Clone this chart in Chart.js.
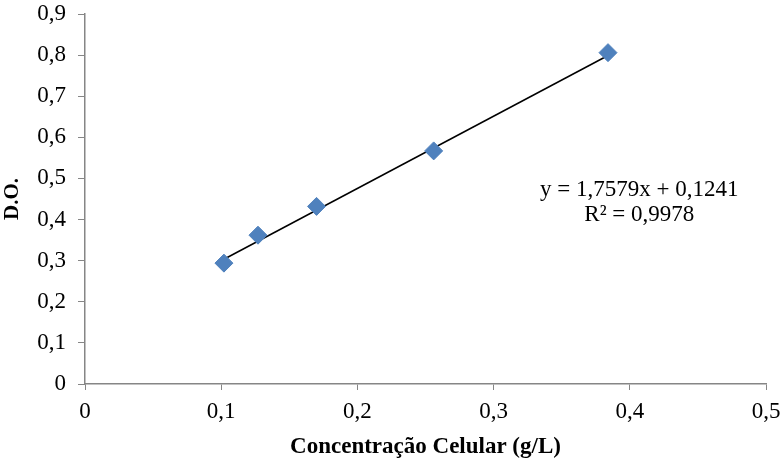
<!DOCTYPE html>
<html>
<head>
<meta charset="utf-8">
<script src="https://cdn.jsdelivr.net/npm/chart.js@4"></script>
<style>
  html, body { margin: 0; padding: 0; background: #fff; }
  #wrap { width: 784px; height: 461px; }
</style>
</head>
<body>
<div id="wrap"><canvas id="calib"></canvas></div>
<script>
// Calibration curve data
const concentracao = [0.102, 0.127, 0.170, 0.256, 0.384];
const densidade = [0.294, 0.362, 0.432, 0.567, 0.806];
const slope = 1.7579;
const intercept = 0.1241;
const equationLines = ['y = 1,7579x + 0,1241', 'R² = 0,9978'];

const fmt = v => String(Math.round(v * 10) / 10).replace('.', ',');

// trendline over the data range, from the fitted equation
const xMin = Math.min(...concentracao);
const xMax = Math.max(...concentracao);
const trend = [xMin, xMax].map(x => ({ x: x, y: slope * x + intercept }));

const points = concentracao.map((x, i) => ({ x: x, y: densidade[i] }));

const equationLabel = {
    id: 'equationLabel',
    afterDatasetsDraw(chart) {
        const { ctx, scales } = chart;
        ctx.save();
        ctx.font = '23px "Liberation Serif"';
        ctx.fillStyle = '#000';
        ctx.textAlign = 'center';
        ctx.textBaseline = 'middle';
        const cx = scales.x.getPixelForValue(0.407);
        ctx.fillText(equationLines[0], cx, scales.y.getPixelForValue(0.471));
        ctx.fillText(equationLines[1], cx, scales.y.getPixelForValue(0.410));
        ctx.restore();
    }
};

const axisGray = '#868686';
const tickFont = { family: 'Liberation Serif', size: 23 };

// keep the plot box fixed, ignore label overhang padding
const noOverhang = s => {
    s.paddingTop = 0;
    s.paddingBottom = 0;
    s.paddingLeft = 0;
    s.paddingRight = 0;
};

new Chart(document.getElementById('calib'), {
    type: 'scatter',
    data: {
        datasets: [
            {
                label: 'D.O.',
                data: points,
                pointStyle: 'rectRot',
                pointRadius: 9,
                pointBackgroundColor: '#4F81BD',
                pointBorderColor: '#4F81BD',
                order: 1
            },
            {
                label: 'Linear',
                type: 'line',
                data: trend,
                borderColor: '#000',
                borderWidth: 1.5,
                pointRadius: 0,
                fill: false,
                order: 2
            }
        ]
    },
    options: {
        responsive: true,
        maintainAspectRatio: false,
        animation: false,
        layout: { padding: { top: 14, right: 18, left: 0, bottom: 0 } },
        plugins: {
            legend: { display: false },
            tooltip: { enabled: false }
        },
        scales: {
            x: {
                type: 'linear',
                min: 0,
                max: 0.5,
                ticks: {
                    stepSize: 0.1,
                    color: '#000',
                    font: tickFont,
                    padding: 8,
                    callback: v => fmt(v)
                },
                grid: { drawOnChartArea: false, drawTicks: true, tickLength: 6, color: axisGray },
                border: { color: axisGray, width: 1.5 },
                title: {
                    display: true,
                    text: 'Concentração Celular (g/L)',
                    color: '#000',
                    font: { family: 'Liberation Serif', size: 23, weight: 'bold' },
                    padding: { top: 4, bottom: 0 }
                },
                afterFit: s => { s.height = 77; noOverhang(s); }
            },
            y: {
                min: 0,
                max: 0.9,
                ticks: {
                    stepSize: 0.1,
                    color: '#000',
                    font: tickFont,
                    padding: 12,
                    callback: v => fmt(v)
                },
                grid: { drawOnChartArea: false, drawTicks: true, tickLength: 7, color: axisGray },
                border: { color: axisGray, width: 1.5 },
                title: {
                    display: true,
                    text: 'D.O.',
                    color: '#000',
                    font: { family: 'Liberation Serif', size: 21, weight: 'bold' },
                    padding: { top: 0, bottom: 6 }
                },
                afterFit: s => { s.width = 85; noOverhang(s); }
            }
        }
    },
    plugins: [equationLabel]
});
</script>
</body>
</html>
